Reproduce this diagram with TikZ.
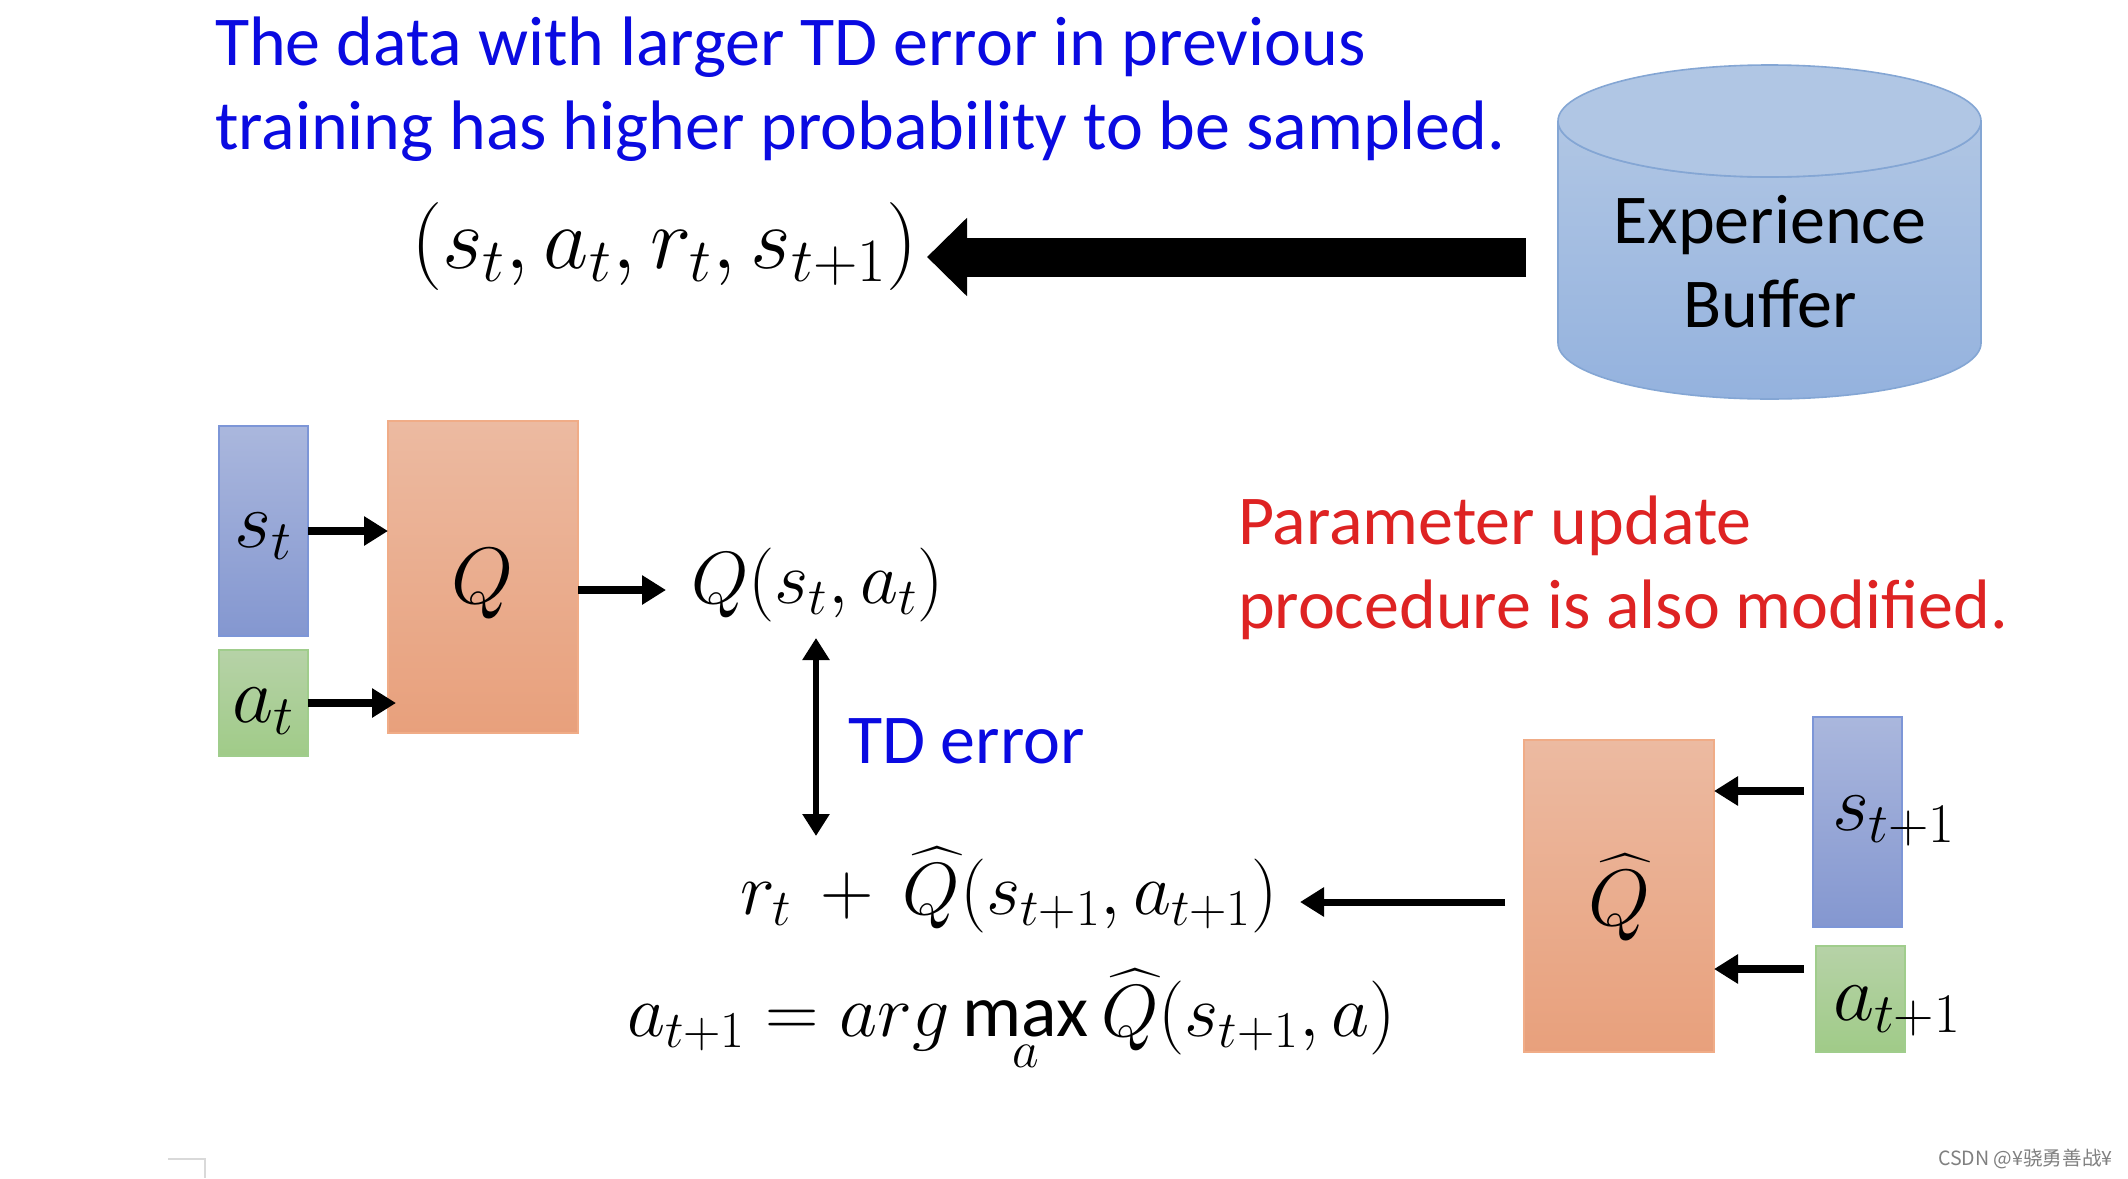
\RequirePackage{fix-cm}
\documentclass[tikz,border=0pt]{standalone}
\usepackage{amsmath}
\usepackage{fontspec}
\setmainfont{Carlito}
\newfontfamily\cjkwm{Noto Sans CJK SC}
\usetikzlibrary{arrows.meta}
\definecolor{txtblue}{RGB}{10,10,225}
\definecolor{txtred}{RGB}{222,35,35}
\definecolor{stop}{RGB}{170,183,221}
\definecolor{sbot}{RGB}{132,151,208}
\definecolor{sline}{RGB}{125,150,215}
\definecolor{atop}{RGB}{182,210,167}
\definecolor{abot}{RGB}{160,203,136}
\definecolor{aline}{RGB}{160,205,140}
\definecolor{qtop}{RGB}{236,186,161}
\definecolor{qbot}{RGB}{232,160,124}
\definecolor{qline}{RGB}{240,172,135}
\definecolor{cyltop}{RGB}{176,198,228}
\definecolor{cylbot}{RGB}{148,178,222}
\definecolor{cylline}{RGB}{132,166,212}
\tikzset{
  x=0.5pt,y=-0.5pt,
  boxnode/.style={inner sep=0pt,outer sep=0pt,line width=0.8pt,anchor=north west},
  statebox/.style={boxnode,draw=sline,top color=stop,bottom color=sbot,minimum width=44.5pt},
  actbox/.style={boxnode,draw=aline,top color=atop,bottom color=abot,minimum width=44.5pt},
  qbox/.style={boxnode,draw=qline,top color=qtop,bottom color=qbot,minimum width=95pt,minimum height=156pt},
  mathlab/.style={inner sep=0pt,outer sep=0pt,text=black,font=\fontsize{37}{42}\selectfont},
  boxlab/.style={inner sep=0pt,outer sep=0pt,text=black,font=\fontsize{40}{46}\selectfont},
  bodytext/.style={inner sep=0pt,outer sep=0pt,align=left,font=\fontsize{35}{42}\selectfont},
  thinarrow/.style={line width=4pt,-{Triangle[length=12pt,width=14pt]}},
  longarrow/.style={line width=3.5pt,-{Triangle[length=12pt,width=14pt]}},
  twoarrow/.style={line width=3.2pt,{Triangle[length=11pt,width=13pt]}-{Triangle[length=11pt,width=13pt]}},
  bigarrow/.style={line width=19.5pt,-{Triangle[length=20pt,width=38pt]}}
}
\begin{document}
\begin{tikzpicture}
\useasboundingbox (0,0) rectangle (2128,1178);
\fill[white] (0,0) rectangle (2128,1178);
% texts
\node[bodytext,text=txtblue,anchor=west] (note1) at (215,89) {The data with larger TD error in previous\\training has higher probability to be sampled.};
\node[bodytext,text=txtred,anchor=west] (note2) at (1238,568) {Parameter update\\procedure is also modified.};
% cylinder
\path[top color=cyltop,bottom color=cylbot,draw=cylline,line width=0.8pt]
  (1558,121) arc[start angle=180,end angle=0,x radius=211.5,y radius=56]
  -- (1981,343) arc[start angle=0,end angle=180,x radius=211.5,y radius=56] -- cycle;
\draw[cylline,line width=0.8pt,fill=cyltop] (1558,121) arc[start angle=180,end angle=360,x radius=211.5,y radius=56]
  arc[start angle=0,end angle=180,x radius=211.5,y radius=56];
\node[bodytext,align=center,text=black] (buffer) at (1770,262) {Experience\\Buffer};
\coordinate (buftail) at (1526,257);
\node[mathlab,anchor=base west,font=\fontsize{44}{50}\selectfont] (tuple) at (411,268) {$(s_t,a_t,r_t,s_{t+1})$};
\coordinate (bigtip) at (927,257);
\draw[bigarrow] (buftail) -- (bigtip);
% left group
\node[statebox,minimum height=105pt] (st) at (219,426) {};
\node[actbox,minimum height=53pt] (at) at (219,650) {};
\node[qbox] (q) at (388,421) {};
\node[boxlab,anchor=base] (stl) at (263,547) {$s_t$};
\node[boxlab,anchor=base] (atl) at (263,722) {$a_t$};
\node[boxlab,anchor=base] (ql) at (483,603) {$Q$};
\draw[thinarrow] (st.east) -- (st.east -| q.west);
\coordinate (atin) at (396,703);
\draw[thinarrow] (at.east) -- (atin);
\node[mathlab,anchor=base west] (qval) at (691,603) {$Q(s_t,a_t)$};
\draw[thinarrow] ([yshift=-6.5pt]q.east) -- ([yshift=-6.5pt,xshift=44pt]q.east);
% TD
\coordinate (tdtop) at (816,638);
\coordinate (tdbot) at (816,836);
\draw[twoarrow] (tdtop) -- (tdbot);
\node[bodytext,text=txtblue,anchor=base west] (td) at (848,763) {TD error};
% right group
\node[qbox] (qh) at (1524,740) {};
\node[statebox,minimum height=105pt] (snext) at (1813,717) {};
\node[actbox,minimum height=53pt] (anext) at (1816,946) {};
\node[boxlab,anchor=base] (qhl) at (1619,925) {$\widehat{Q}$};
\node[boxlab,anchor=base west] (snl) at (1832,830) {$s_{t+1}$};
\node[boxlab,anchor=base west] (anl) at (1833,1020) {$a_{t+1}$};
\coordinate (stail) at (1804,791);
\coordinate (atail) at (1804,969);
\draw[thinarrow] (stail) -- (stail -| qh.east);
\draw[thinarrow] (atail) -- (atail -| qh.east);
\node[mathlab,anchor=base west] (target) at (740,914) {$r_t\,+\,\widehat{Q}(s_{t+1},a_{t+1})$};
\node[mathlab,anchor=base west] (argm) at (627,1036) {$\displaystyle a_{t+1}=arg\max_{a}\widehat{Q}(s_{t+1},a)$};
\coordinate (qhtail) at (1505,902);
\coordinate (targethead) at (1300,902);
\draw[longarrow] (qhtail) -- (targethead);
% watermark and page corner
\node[inner sep=0pt,text=black!50,anchor=east,font=\cjkwm\fontsize{9.8}{12}\selectfont] (mark) at (2113,1159) {CSDN @¥骁勇善战¥};
\draw[black!15,line width=0.8pt] (168,1159) -- (205,1159) -- (205,1178);
\end{tikzpicture}
\end{document}
